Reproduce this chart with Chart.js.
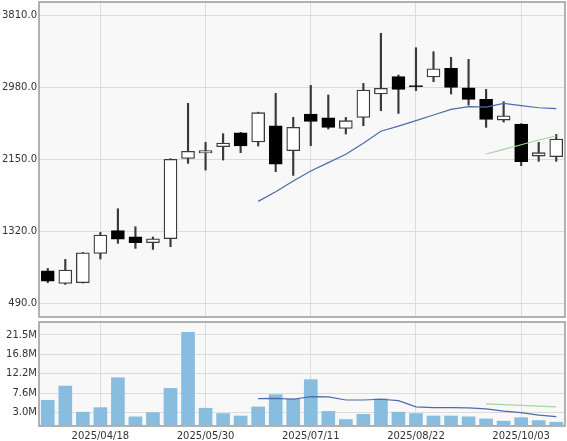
<!DOCTYPE html>
<html lang="ja">
<head>
<meta charset="UTF-8">
<title>Weekly chart</title>
<script src="https://cdn.jsdelivr.net/npm/chart.js@4.4.1/dist/chart.umd.min.js"></script>
<style>
  body { margin: 0; background: #fff; }
  #wrap { position: relative; width: 567px; height: 441px; }
  canvas { position: absolute; left: 0; }
</style>
</head>
<body>
<div id="wrap">
  <canvas id="price" width="567" height="320" style="top:0"></canvas>
  <canvas id="vol" width="567" height="121" style="top:320px"></canvas>
</div>
<script>
const dates = ['2025/03/28','2025/04/04','2025/04/11','2025/04/18','2025/04/25','2025/05/02','2025/05/09','2025/05/16','2025/05/23','2025/05/30',
  '2025/06/06','2025/06/13','2025/06/20','2025/06/27','2025/07/04','2025/07/11','2025/07/18','2025/07/25','2025/08/01','2025/08/08',
  '2025/08/15','2025/08/22','2025/08/29','2025/09/05','2025/09/12','2025/09/19','2025/09/26','2025/10/03','2025/10/10','2025/10/17'];

const openP  = [862, 716, 724, 1062, 1324, 1254, 1185, 1231, 2157, 2219, 2292, 2453, 2346, 2534, 2246, 2669, 2626, 2503, 2630, 2899, 3099, 2998, 3095, 3195, 2972, 2838, 2599, 2553, 2184, 2177];
const highP  = [889, 993, 1074, 1304, 1577, 1370, 1251, 2154, 2792, 2342, 2442, 2458, 2690, 2907, 2630, 2999, 2888, 2630, 3022, 3599, 3118, 3433, 3387, 3322, 3299, 2953, 2811, 2557, 2342, 2434];
const lowP   = [724, 705, 720, 997, 1178, 1120, 1108, 1139, 2100, 2023, 2138, 2223, 2300, 2004, 1961, 2303, 2496, 2438, 2534, 2707, 2676, 2938, 3041, 2899, 2772, 2515, 2576, 2073, 2123, 2123];
const closeP = [743, 870, 1070, 1274, 1227, 1185, 1231, 2146, 2238, 2246, 2334, 2300, 2684, 2092, 2515, 2584, 2515, 2592, 2945, 2965, 2953, 2985, 3191, 2976, 2838, 2607, 2649, 2119, 2223, 2380];

const ma13 = [null, null, null, null, null, null, null, null, null, null, null, null,
  1662, 1773, 1896, 2012, 2108, 2204, 2331, 2470, 2530, 2592, 2657, 2723, 2753, 2749, 2792, 2765, 2741, 2730];
const ma26 = [null, null, null, null, null, null, null, null, null, null, null, null, null,
  null, null, null, null, null, null, null, null, null, null, null, null,
  2208, 2262, 2315, 2369, 2415];

// volume in millions
const volume = [5.86, 9.27, 3.0, 4.1, 11.25, 1.88, 2.9, 8.7, 22.1, 3.95, 2.67, 2.1, 4.27, 7.2, 6.25,
  10.8, 3.2, 1.25, 2.5, 6.2, 3.0, 2.67, 2.1, 2.1, 1.9, 1.4, 0.86, 1.7, 1.0, 0.6];
const volMa13 = [null, null, null, null, null, null, null, null, null, null, null, null,
  6.24, 6.3, 6.1, 6.72, 6.65, 5.93, 5.93, 6.1, 5.77, 4.27, 4.1, 4.1, 4.03, 3.79, 3.24, 2.91, 2.29, 1.95];
const volMa26 = [null, null, null, null, null, null, null, null, null, null, null, null, null,
  null, null, null, null, null, null, null, null, null, null, null, null,
  4.98, 4.8, 4.63, 4.45, 4.27];

const priceTicks = [490, 1320, 2150, 2980, 3810];
const volTicks = [3.0, 7.6, 12.2, 16.8, 21.5];
const labelIdx = [3, 9, 15, 21, 27];

Chart.defaults.font.family = 'DejaVu Sans';
Chart.defaults.font.size = 10;
Chart.defaults.color = '#333';

const frame = {
  id: 'frame',
  beforeDraw(c) {
    const a = c.chartArea, g = c.ctx;
    g.save();
    g.fillStyle = '#f8f8f8';
    g.fillRect(a.left, a.top, a.right - a.left, a.bottom - a.top);
    g.restore();
  },
  afterDraw(c) {
    const a = c.chartArea, g = c.ctx;
    g.save();
    g.strokeStyle = '#999';
    g.lineWidth = 1.5;
    g.strokeRect(a.left, a.top, a.right - a.left, a.bottom - a.top);
    g.restore();
  }
};

function xScale(showLabels) {
  return {
    offset: true,
    border: { display: false },
    grid: {
      offset: false,
      drawTicks: false,
      color: ctx => labelIdx.includes(ctx.index) ? '#dcdcdc' : 'rgba(0,0,0,0)'
    },
    ticks: {
      display: showLabels,
      autoSkip: false,
      maxRotation: 0,
      padding: 4,
      callback: (v, i) => labelIdx.includes(i) ? dates[i] : ''
    },
    afterFit: s => { s.height = showLabels ? 15 : 0; s.paddingLeft = 0; s.paddingRight = 0; }
  };
}

function yFit(s) {
  s.width = 39;
  s.paddingTop = 0;
  s.paddingBottom = 0;
}

const bodies = openP.map((o, i) => [o, closeP[i]]);
const wicks = lowP.map((l, i) => [l, highP[i]]);
const up = openP.map((o, i) => closeP[i] >= o);

new Chart(document.getElementById('price'), {
  type: 'bar',
  data: {
    labels: dates,
    datasets: [
      {
        type: 'line', data: ma13, borderColor: '#4b6ca8', borderWidth: 1.2,
        pointRadius: 0, fill: false, order: 0
      },
      {
        type: 'line', data: ma26, borderColor: '#a8d6a0', borderWidth: 1.2,
        pointRadius: 0, fill: false, order: 0
      },
      {
        data: bodies, grouped: false, barThickness: 13, order: 1,
        backgroundColor: up.map(u => u ? '#ffffff' : '#000000'),
        borderColor: up.map(u => u ? '#3a3a3a' : '#000000'),
        borderWidth: 1.3, borderSkipped: false
      },
      {
        data: wicks, grouped: false, barThickness: 1.5, order: 2,
        backgroundColor: '#3a3a3a', borderWidth: 0
      }
    ]
  },
  options: {
    responsive: false,
    animation: false,
    devicePixelRatio: 1,
    layout: { padding: { top: 2, right: 2, bottom: 3, left: 0 } },
    plugins: { legend: { display: false }, tooltip: { enabled: false } },
    scales: {
      x: xScale(false),
      y: {
        min: 329, max: 3960,
        border: { display: false },
        grid: { color: '#dcdcdc', drawTicks: false },
        ticks: { padding: 2, callback: v => Number(v).toFixed(1) },
        afterBuildTicks: s => { s.ticks = priceTicks.map(v => ({ value: v })); },
        afterFit: yFit
      }
    }
  },
  plugins: [frame]
});

new Chart(document.getElementById('vol'), {
  type: 'bar',
  data: {
    labels: dates,
    datasets: [
      {
        type: 'line', data: volMa13, borderColor: '#4b6ca8', borderWidth: 1.2,
        pointRadius: 0, fill: false, order: 0
      },
      {
        type: 'line', data: volMa26, borderColor: '#a8d6a0', borderWidth: 1.2,
        pointRadius: 0, fill: false, order: 0
      },
      {
        data: volume, barThickness: 13, order: 1,
        backgroundColor: '#88bde0', borderWidth: 0
      }
    ]
  },
  options: {
    responsive: false,
    animation: false,
    devicePixelRatio: 1,
    layout: { padding: { top: 2, right: 2, bottom: 0, left: 0 } },
    plugins: { legend: { display: false }, tooltip: { enabled: false } },
    scales: {
      x: xScale(true),
      y: {
        min: -0.3, max: 24.6,
        border: { display: false },
        grid: { color: '#dcdcdc', drawTicks: false },
        ticks: { padding: 2, callback: v => Number(v).toFixed(1) + 'M' },
        afterBuildTicks: s => { s.ticks = volTicks.map(v => ({ value: v })); },
        afterFit: yFit
      }
    }
  },
  plugins: [frame]
});
</script>
</body>
</html>
